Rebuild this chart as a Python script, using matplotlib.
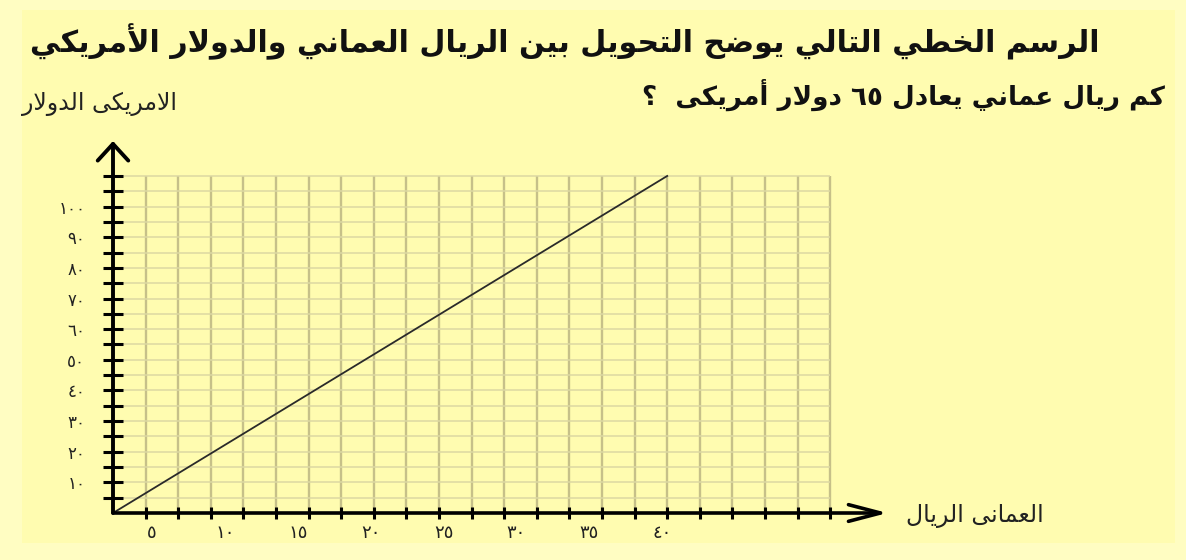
import re
import numpy as np
import matplotlib.pyplot as plt
from matplotlib.patches import Rectangle

rial = [0, 42.5]          # Omani rial
dollar = [0, 110]         # US dollar
x_label_values = [5, 10, 15, 20, 25, 30, 35, 40]
y_label_values = [10, 20, 30, 40, 50, 60, 70, 80, 90, 100]
x_step, y_step, n_cells = 2.5, 5, 22

title_1 = "الرسم الخطي التالي يوضح التحويل بين الريال العماني والدولار الأمريكي"
title_2 = "كم ريال عماني يعادل ٦٥ دولار أمريكى  ؟"
x_title = "العمانى الريال"
y_title = "الامريكى الدولار"


# matplotlib has no arabic shaping, so map letters to presentation forms
def dual(b):
    return (b, b + 1, b + 2, b + 3)


def right(b):
    return (b, b + 1, None, None)


FORMS = {
    'ا': right(0xFE8D), 'أ': right(0xFE83), 'د': right(0xFEA9),
    'ر': right(0xFEAD), 'و': right(0xFEED),
    'ب': dual(0xFE8F), 'ت': dual(0xFE95), 'ح': dual(0xFEA1),
    'خ': dual(0xFEA5), 'س': dual(0xFEB1), 'ض': dual(0xFEBD),
    'ط': dual(0xFEC1), 'ع': dual(0xFEC9), 'ك': dual(0xFED9),
    'ل': dual(0xFEDD), 'م': dual(0xFEE1), 'ن': dual(0xFEE5),
    'ي': dual(0xFEF1), 'ى': (0xFEEF, 0xFEF0, 0xFBE8, 0xFBE9),
}
LAM_ALEF = {'ا': 0xFEFB, 'أ': 0xFEF7}


def shape(text):
    out = []
    prev_links = False
    i = 0
    while i < len(text):
        c = text[i]
        if c == 'ل' and i + 1 < len(text) and text[i + 1] in LAM_ALEF:
            out.append(chr(LAM_ALEF[text[i + 1]] + (1 if prev_links else 0)))
            prev_links = False
            i += 2
            continue
        if c not in FORMS:
            out.append(c)
            prev_links = False
            i += 1
            continue
        iso, fin, ini, med = FORMS[c]
        nxt = text[i + 1] if i + 1 < len(text) else ''
        links_next = ini is not None and nxt in FORMS
        if prev_links and links_next:
            g = med
        elif prev_links:
            g = fin
        elif links_next:
            g = ini
        else:
            g = iso
        out.append(chr(g))
        prev_links = ini is not None
        i += 1
    visual = ''.join(out)[::-1]
    # numbers stay left to right
    return re.sub('[\u0660-\u0669]+', lambda m: m.group(0)[::-1], visual)


def ar_num(n):
    return str(n).translate(str.maketrans('0123456789', '٠١٢٣٤٥٦٧٨٩'))


plt.rcParams['font.family'] = ['DejaVu Sans']

W, H = 1186, 560
outer = '#fffdc2'
inner = '#fffcb0'
fig = plt.figure(figsize=(W / 100, H / 100), dpi=100, facecolor=outer)
fig.add_artist(Rectangle((22 / W, 1 - 543 / H), (1175 - 22) / W, (543 - 10) / H,
                         transform=fig.transFigure, fc=inner, ec='none', zorder=-5))

ax = fig.add_axes([113 / W, (H - 513) / H, 782.4 / W, 373.8 / H])
ax.set_facecolor('none')
ax.set_xlim(0, 60)
ax.set_ylim(0, 122)
for s in ax.spines.values():
    s.set_visible(False)

gx = np.arange(1, n_cells + 1) * x_step
gy = np.arange(1, n_cells + 1) * y_step
ax.vlines(gx, 0, gy[-1], color='#c6c089', lw=1.7, zorder=1)
ax.hlines(gy, 0, gx[-1], color='#dcd8a2', lw=1.1, zorder=1)

ax.plot(rial, dollar, color='#2a2a2a', lw=1.3, zorder=3)

# axes with open arrow heads
ax.annotate('', xy=(59.4, 0), xytext=(0, 0), annotation_clip=False,
            arrowprops=dict(arrowstyle='->,head_length=23,head_width=6',
                            mutation_scale=1, lw=2.6, color='black',
                            shrinkA=0, shrinkB=0), zorder=4)
ax.annotate('', xy=(0, 121.4), xytext=(0, 0), annotation_clip=False,
            arrowprops=dict(arrowstyle='->,head_length=12,head_width=11',
                            mutation_scale=1, lw=2.8, color='black',
                            shrinkA=0, shrinkB=0), zorder=4)

# x labels in the source drift away from the tick marks
label_pos = [1.118 * v - 2.6 for v in x_label_values]
ax.set_xticks(gx, minor=True)
ax.set_xticks(label_pos, [ar_num(v) for v in x_label_values])
ax.tick_params(axis='x', which='minor', direction='inout', length=9, width=2.2, color='black')
ax.tick_params(axis='x', which='major', length=0, pad=8, labelsize=13, labelcolor='#222222')

ax.set_yticks(gy, [ar_num(v) if v in y_label_values else '' for v in gy])
ax.tick_params(axis='y', direction='inout', length=14, width=2.2, color='black',
               pad=13, labelsize=12, labelcolor='#222222')

fig.text(1100 / W, 1 - 42 / H, shape(title_1), ha='right', va='center',
         fontsize=21.7, fontweight='bold', color='#111111')
fig.text(1165 / W, 1 - 95 / H, shape(title_2), ha='right', va='center',
         fontsize=18.8, fontweight='bold', color='#111111')
fig.text(22 / W, 1 - 104 / H, shape(y_title), ha='left', va='center',
         fontsize=17, color='#222222')
fig.text(906 / W, 1 - 516 / H, shape(x_title), ha='left', va='center',
         fontsize=17, color='#222222')

fig.savefig('out.png', dpi=100, facecolor=outer)
